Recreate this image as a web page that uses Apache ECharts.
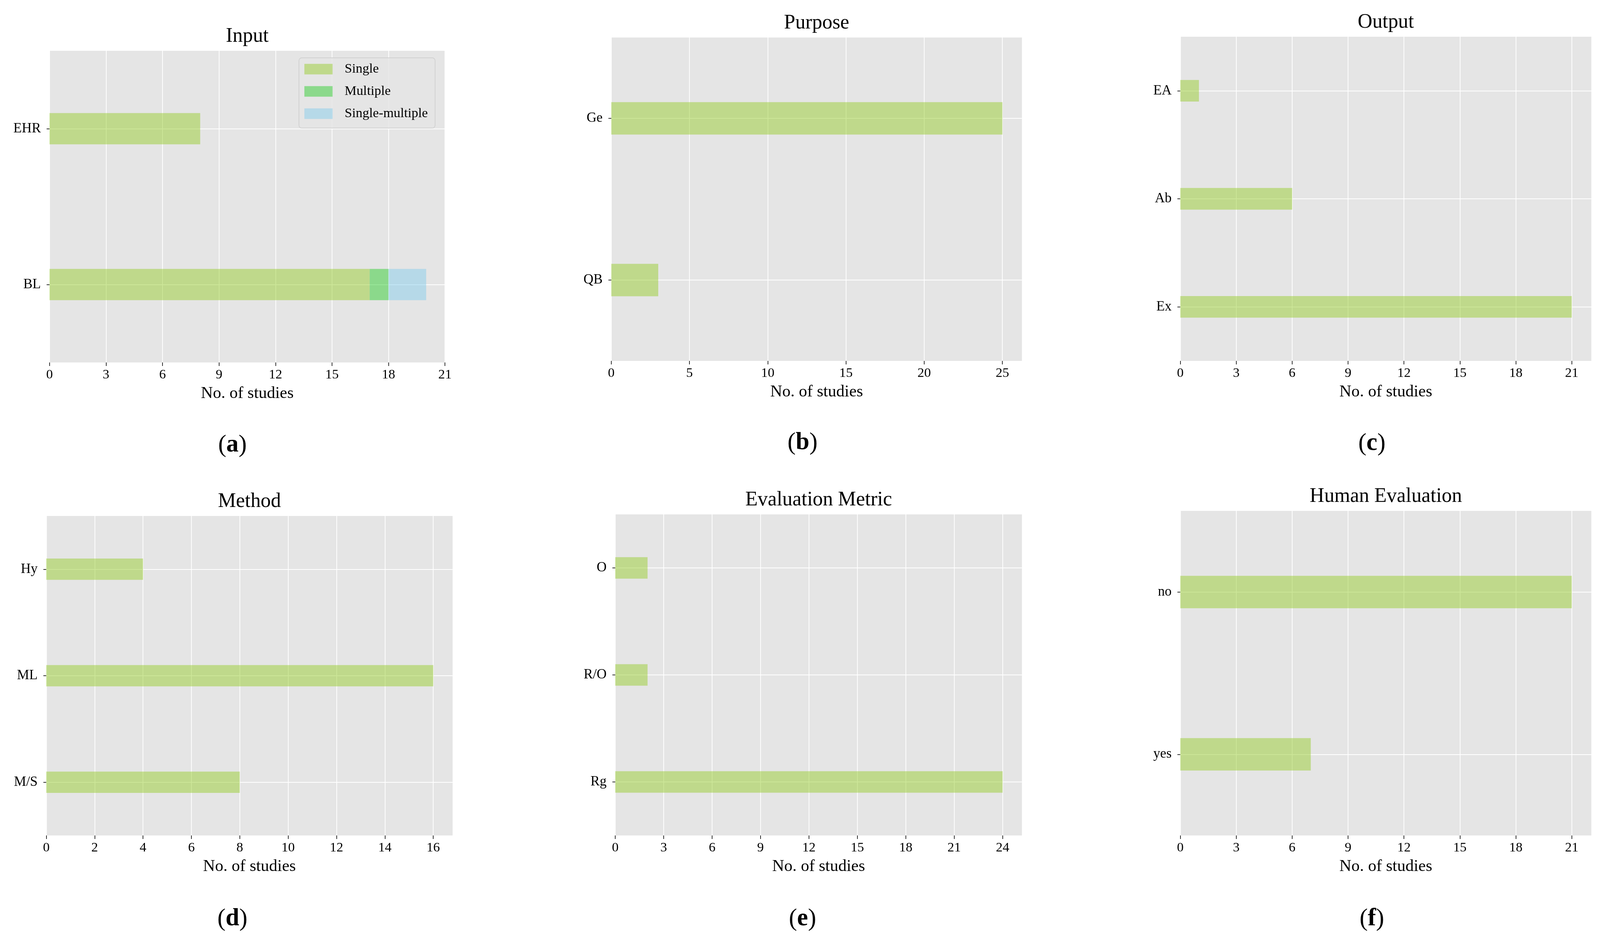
<!DOCTYPE html>
<html>
<head>
<meta charset="utf-8">
<script src="https://cdn.jsdelivr.net/npm/echarts@6/dist/echarts.min.js"></script>
<style>
html,body{margin:0;padding:0;background:#fff;overflow:hidden;}
#chart{position:absolute;left:0;top:0;}
</style>
</head>
<body>
<div id="chart"></div>
<script>
// ---------- data ----------
const inputCats = ['BL', 'EHR'];
const inputSingle = [17, 8];
const inputMultiple = [1, 0];
const inputSingleMultiple = [2, 0];

const purposeCats = ['QB', 'Ge'];
const purposeVals = [3, 25];

const outputCats = ['Ex', 'Ab', 'EA'];
const outputVals = [21, 6, 1];

const methodCats = ['M/S', 'ML', 'Hy'];
const methodVals = [8, 16, 4];

const metricCats = ['Rg', 'R/O', 'O'];
const metricVals = [24, 2, 2];

const humanCats = ['yes', 'no'];
const humanVals = [7, 21];

const ticksA = [0, 3, 6, 9, 12, 15, 18, 21];
const ticksB = [0, 5, 10, 15, 20, 25];
const ticksC = [0, 3, 6, 9, 12, 15, 18, 21];
const ticksD = [0, 2, 4, 6, 8, 10, 12, 14, 16];
const ticksE = [0, 3, 6, 9, 12, 15, 18, 21, 24];
const ticksF = [0, 3, 6, 9, 12, 15, 18, 21];

const titles = ['Input', 'Purpose', 'Output', 'Method', 'Evaluation Metric', 'Human Evaluation'];
const subLetters = ['a', 'b', 'c', 'd', 'e', 'f'];
const xName = 'No. of studies';
const legendNames = ['Single', 'Multiple', 'Single-multiple'];

// ---------- styling / layout ----------
const FONT = 'Liberation Serif';
const C_SINGLE = 'rgba(154,205,50,0.5)';
const C_MULTI = 'rgba(50,205,50,0.5)';
const C_SM = 'rgba(135,206,235,0.5)';

const BASE_W = 4426, BASE_H = 2422;
const vw = window.innerWidth || BASE_W, vh = window.innerHeight || BASE_H;
const SX = vw / BASE_W, SY = vh / BASE_H;
const sx = v => v * SX;   // horizontal positions
const sy = v => v * SY;   // vertical positions
const sf = v => v * Math.min(SX, SY); // sizes / fonts

const el = document.getElementById('chart');
el.style.width = vw + 'px';
el.style.height = vh + 'px';

const panels = [
  {left: 137, top: 130, width: 1094, height: 798, subX: 643, subY: 1140},
  {left: 1691, top: 96, width: 1136, height: 828, subX: 2220, subY: 1134},
  {left: 3265, top: 94, width: 1137, height: 830, subX: 3795, subY: 1136},
  {left: 128, top: 1321, width: 1124, height: 818, subX: 643, subY: 2353},
  {left: 1702, top: 1317, width: 1125, height: 822, subX: 2220, subY: 2353},
  {left: 3265, top: 1308, width: 1137, height: 831, subX: 3795, subY: 2353}
];

const panelData = [
  {cats: inputCats, ticks: ticksA, series: [
    {name: 'Single', data: inputSingle, color: C_SINGLE},
    {name: 'Multiple', data: inputMultiple, color: C_MULTI},
    {name: 'Single-multiple', data: inputSingleMultiple, color: C_SM}]},
  {cats: purposeCats, ticks: ticksB, series: [{name: 'Single', data: purposeVals, color: C_SINGLE}]},
  {cats: outputCats, ticks: ticksC, series: [{name: 'Single', data: outputVals, color: C_SINGLE}]},
  {cats: methodCats, ticks: ticksD, series: [{name: 'Single', data: methodVals, color: C_SINGLE}]},
  {cats: metricCats, ticks: ticksE, series: [{name: 'Single', data: metricVals, color: C_SINGLE}]},
  {cats: humanCats, ticks: ticksF, series: [{name: 'Single', data: humanVals, color: C_SINGLE}]}
];

const grids = [], xAxes = [], yAxes = [], series = [], graphics = [];

panelData.forEach((pd, i) => {
  const p = panels[i];
  grids.push({left: sx(p.left), top: sy(p.top), width: sx(p.width), height: sy(p.height),
    show: true, backgroundColor: '#e5e5e5', borderWidth: 0, containLabel: false});

  // totals for axis extent (matplotlib-like 5% margin)
  let maxTotal = 0;
  pd.cats.forEach((c, k) => {
    let s = 0; pd.series.forEach(se => s += se.data[k]);
    if (s > maxTotal) maxTotal = s;
  });
  const interval = pd.ticks[1] - pd.ticks[0];

  xAxes.push({
    type: 'value', gridIndex: i, min: 0, max: maxTotal * 1.05, interval: interval,
    name: xName, nameLocation: 'middle', nameGap: sy(58),
    nameTextStyle: {fontFamily: FONT, fontSize: sf(46), color: '#000'},
    axisLine: {show: false},
    axisTick: {show: true, length: sy(9), lineStyle: {color: '#222', width: sf(2)}, customValues: pd.ticks},
    axisLabel: {show: true, margin: sy(15), fontFamily: FONT, fontSize: sf(37), color: '#000',
      customValues: pd.ticks},
    splitLine: {show: true, lineStyle: {color: '#ffffff', width: sf(2)}}
  });

  yAxes.push({
    type: 'category', gridIndex: i, data: pd.cats,
    axisLine: {show: false},
    axisTick: {show: true, alignWithLabel: true, length: sx(8), lineStyle: {color: '#222', width: sf(2)}},
    axisLabel: {margin: sx(24), fontFamily: FONT, fontSize: sf(38), color: '#000'},
    splitLine: {show: true, alignWithLabel: true, lineStyle: {color: '#ffffff', width: sf(2)}}
  });

  pd.series.forEach(se => {
    series.push({
      type: 'bar', name: se.name, xAxisIndex: i, yAxisIndex: i,
      stack: 'st' + i, data: se.data, barWidth: '20%',
      itemStyle: {color: se.color}, emphasis: {disabled: true}, animation: false
    });
  });

  graphics.push({
    type: 'text', x: sx(p.left + p.width / 2), y: sy(p.top - 37),
    style: {text: titles[i], fontFamily: FONT, fontSize: sf(56), fill: '#000',
      align: 'center', verticalAlign: 'middle'}
  });
  graphics.push({
    type: 'text', x: sx(p.subX), y: sy(p.subY),
    style: {
      text: '{p|(}{b|' + subLetters[i] + '}{p|)}',
      align: 'center', verticalAlign: 'middle',
      rich: {
        p: {fontFamily: FONT, fontSize: sf(68), fontWeight: 'normal', fill: '#000'},
        b: {fontFamily: FONT, fontSize: sf(68), fontWeight: 'bold', fill: '#000'}
      }
    }
  });
});

const chart = echarts.init(el, null, {renderer: 'canvas'});
chart.setOption({
  backgroundColor: '#ffffff',
  animation: false,
  grid: grids,
  xAxis: xAxes,
  yAxis: yAxes,
  series: series,
  legend: {
    show: true, orient: 'vertical', left: sx(827), top: sy(148),
    data: legendNames.map(n => ({name: n, icon: 'rect'})),
    itemWidth: sx(78), itemHeight: sy(27), itemGap: sy(19),
    padding: [sy(10), sx(20), sy(18), sx(15)],
    backgroundColor: 'rgba(229,229,229,0.8)',
    borderColor: 'rgba(204,204,204,0.8)', borderWidth: sf(2), borderRadius: sf(8),
    textStyle: {fontFamily: FONT, fontSize: sf(37), color: '#000', lineHeight: sy(38),
      padding: [0, 0, 0, sx(28)]},
    selectedMode: false
  },
  graphic: graphics
});
</script>
</body>
</html>
